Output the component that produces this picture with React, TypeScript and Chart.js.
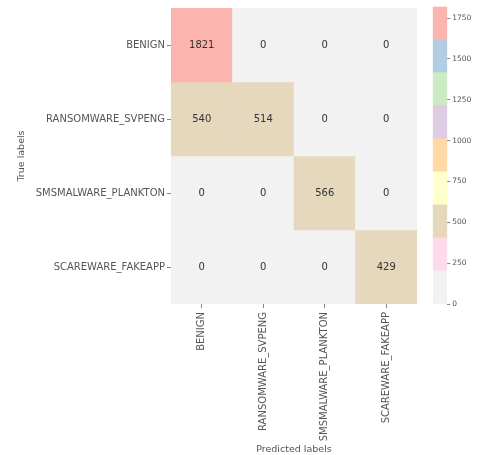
import React, { useEffect, useRef } from "react";
import { Chart, registerables } from "chart.js";
Chart.register(...registerables);

const trueLabels = ["BENIGN", "RANSOMWARE_SVPENG", "SMSMALWARE_PLANKTON", "SCAREWARE_FAKEAPP"];
const predLabels = ["BENIGN", "RANSOMWARE_SVPENG", "SMSMALWARE_PLANKTON", "SCAREWARE_FAKEAPP"];
const rowBenign = [1821, 0, 0, 0];
const rowSvpeng = [540, 514, 0, 0];
const rowPlankton = [0, 0, 566, 0];
const rowFakeapp = [0, 0, 0, 429];
const matrix = [rowBenign, rowSvpeng, rowPlankton, rowFakeapp];
const cbarTicks = [0, 250, 500, 750, 1000, 1250, 1500, 1750];
const pastel1R = ["#f2f2f2", "#fddaec", "#e5d8bd", "#ffffcc", "#fed9a6", "#decbe4", "#ccebc5", "#b3cde3", "#fbb4ae"];
const vmin = 0;
const vmax = Math.max(...matrix.flat());

const FONT = "DejaVu Sans";
const TEXT = "#555555";

function colorFor(v: number) {
  const n = pastel1R.length;
  const k = Math.min(n - 1, Math.floor(((v - vmin) / (vmax - vmin)) * n));
  return pastel1R[k];
}

const annotate = {
  id: "annot",
  afterDatasetsDraw(chart: any) {
    const ctx = chart.ctx;
    ctx.save();
    ctx.font = `10px "${FONT}"`;
    ctx.fillStyle = "#333333";
    ctx.textAlign = "center";
    ctx.textBaseline = "middle";
    chart.data.datasets.forEach((_ds: any, i: number) => {
      const meta = chart.getDatasetMeta(i);
      meta.data.forEach((el: any, j: number) => {
        ctx.fillText(String(matrix[i][j]), el.x, (el.y + el.base) / 2);
      });
    });
    ctx.restore();
  },
};

const TOP = 5.7;
const BOTTOM_H = 151;

export default function App() {
  const mainRef = useRef<HTMLCanvasElement>(null);
  const barRef = useRef<HTMLCanvasElement>(null);

  useEffect(() => {
    const main = new Chart(mainRef.current!, {
      type: "bar",
      data: {
        labels: predLabels,
        datasets: matrix.map((row, i) => ({
          label: trueLabels[i],
          data: row.map(() => [i, i + 1]),
          backgroundColor: row.map(colorFor),
          borderWidth: 0,
          borderSkipped: false,
          grouped: false,
          barPercentage: 1,
          categoryPercentage: 1,
        })) as any,
      },
      options: {
        animation: false,
        responsive: false,
        maintainAspectRatio: false,
        layout: { padding: { top: TOP, right: 13, left: 0, bottom: 0 } },
        plugins: { legend: { display: false }, tooltip: { enabled: false } },
        scales: {
          x: {
            type: "category",
            grid: { offset: false, drawOnChartArea: false, tickLength: 4, color: "#888888" },
            border: { display: false },
            ticks: {
              maxRotation: 90,
              minRotation: 90,
              autoSkip: false,
              padding: 4,
              color: TEXT,
              font: { family: FONT, size: 10 },
            },
            title: {
              display: true,
              text: "Predicted labels",
              color: TEXT,
              font: { family: FONT, size: 9.5 },
              padding: { top: 0, bottom: 0 },
            },
            afterFit: (s: any) => {
              s.height = BOTTOM_H;
            },
          },
          y: {
            type: "linear",
            min: 0,
            max: trueLabels.length,
            reverse: true,
            afterBuildTicks: (s: any) => {
              s.ticks = trueLabels.map((_l, i) => ({ value: i + 0.5 }));
            },
            grid: { drawOnChartArea: false, tickLength: 4, color: "#888888" },
            border: { display: false },
            ticks: {
              autoSkip: false,
              padding: 2,
              color: TEXT,
              font: { family: FONT, size: 10 },
              callback: (v: any) => trueLabels[Math.floor(Number(v))],
            },
            title: {
              display: true,
              text: "True labels",
              color: TEXT,
              font: { family: FONT, size: 9.5 },
              padding: { top: 16, bottom: 0 },
            },
            afterFit: (s: any) => {
              s.width = 171;
            },
          },
        },
      },
      plugins: [annotate],
    });

    const cbar = new Chart(barRef.current!, {
      type: "bar",
      data: {
        labels: [""],
        datasets: pastel1R.map((c, k) => ({
          data: [[vmin + (k * (vmax - vmin)) / pastel1R.length, vmin + ((k + 1) * (vmax - vmin)) / pastel1R.length]],
          backgroundColor: c,
          borderWidth: 0,
          borderSkipped: false,
          grouped: false,
          barPercentage: 1,
          categoryPercentage: 1,
        })) as any,
      },
      options: {
        animation: false,
        responsive: false,
        maintainAspectRatio: false,
        layout: { padding: { top: TOP, bottom: BOTTOM_H, left: 12.7, right: 0 } },
        plugins: { legend: { display: false }, tooltip: { enabled: false } },
        scales: {
          x: { display: false },
          y: {
            type: "linear",
            position: "right",
            min: vmin,
            max: vmax,
            afterBuildTicks: (s: any) => {
              s.ticks = cbarTicks.map((v) => ({ value: v }));
            },
            grid: { drawOnChartArea: false, tickLength: 3, color: "#888888" },
            border: { display: false },
            ticks: {
              padding: 2,
              color: TEXT,
              font: { family: FONT, size: 7.5 },
              callback: (v: any) => String(v),
            },
            afterFit: (s: any) => {
              s.width = 60 - 27.3;
            },
          },
        },
      },
    });

    return () => {
      main.destroy();
      cbar.destroy();
    };
  }, []);

  return (
    <div style={{ position: "absolute", left: 0, top: 0, width: 480, height: 455, background: "#ffffff" }}>
      <canvas ref={mainRef} width={430} height={455} style={{ position: "absolute", left: 0, top: 0 }} />
      <canvas ref={barRef} width={60} height={455} style={{ position: "absolute", left: 420, top: 0 }} />
    </div>
  );
}
